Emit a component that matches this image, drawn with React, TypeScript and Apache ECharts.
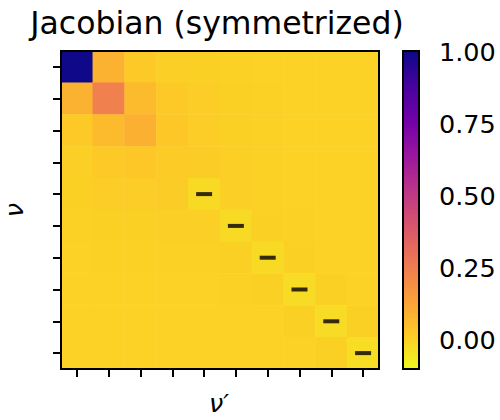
import React, { useEffect, useRef } from "react";
import * as echarts from "echarts";

// ---- data ----
const colLabels = ["0", "1", "2", "3", "4", "5", "6", "7", "8", "9"];
const rowLabels = ["0", "1", "2", "3", "4", "5", "6", "7", "8", "9"];
const jacobian: number[][] = [
  [1.0, 0.088, 0.022, 0.008, 0.004, 0.002, 0.0, 0.0, 0.0, 0.0],
  [0.088, 0.243, 0.065, 0.022, 0.012, 0.004, 0.002, 0.0, 0.0, 0.0],
  [0.022, 0.065, 0.095, 0.028, 0.012, 0.005, 0.002, 0.0, 0.0, 0.0],
  [0.008, 0.022, 0.028, 0.018, 0.014, 0.008, 0.003, 0.0, 0.0, 0.0],
  [0.004, 0.012, 0.012, 0.014, -0.02, 0.007, 0.003, 0.001, 0.0, 0.0],
  [0.002, 0.004, 0.005, 0.008, 0.007, -0.02, 0.006, 0.002, 0.0, 0.0],
  [0.0, 0.002, 0.002, 0.003, 0.003, 0.006, -0.02, 0.005, 0.001, 0.0],
  [0.0, 0.0, 0.0, 0.001, 0.001, 0.002, 0.005, -0.022, 0.004, 0.001],
  [0.0, 0.0, 0.0, 0.0, 0.0, 0.0, 0.001, 0.004, -0.024, 0.004],
  [0.0, 0.0, 0.0, 0.0, 0.0, 0.0, 0.0, 0.001, 0.004, -0.032],
];
const markerCells = [4, 5, 6, 7, 8, 9];
const colorbarTicks = [0, 0.25, 0.5, 0.75, 1.0];
const colorMin = -0.1;
const colorMax = 1.005;
// plasma colormap (low -> high), used reversed (plasma_r)
const plasma = [
  "#0d0887", "#47039f", "#7301a8", "#9c179e", "#bd3786",
  "#d8576b", "#ed7953", "#fa9e3b", "#fdc926", "#f0f921",
];

const FONT = "DejaVu Sans";

export default function App() {
  const ref = useRef<HTMLDivElement>(null);
  useEffect(() => {
    document.body.style.margin = "0";
    if (!ref.current) return;
    const chart = echarts.init(ref.current, undefined, { renderer: "svg" });

    const plasmaR = plasma.slice().reverse(); // low value -> yellow
    const heatData: [number, number, number][] = [];
    jacobian.forEach((row, r) =>
      row.forEach((v, c) => heatData.push([c, r, v]))
    );
    const markerData = markerCells.map((i) => [i, i]);

    const gL = 61, gT = 51, gW = 318, gH = 318;
    const cbL = 403, cbW = 16;

    const gradStops = plasma.map((c, i) => ({
      offset: i / (plasma.length - 1),
      color: c,
    }));

    const tickStyle = { color: "#000", width: 2 };

    chart.setOption({
      animation: false,
      backgroundColor: "#fff",
      textStyle: { fontFamily: FONT },
      grid: [
        { left: gL, top: gT, width: gW, height: gH, containLabel: false },
        { left: cbL, top: gT, width: cbW, height: gH, containLabel: false },
      ],
      xAxis: [
        {
          type: "category",
          gridIndex: 0,
          data: colLabels,
          axisLine: { show: false },
          axisTick: { show: true, alignWithLabel: true, interval: 0, length: 8, lineStyle: tickStyle },
          axisLabel: { show: false },
          splitLine: { show: false },
        },
        { type: "value", gridIndex: 1, show: false },
      ],
      yAxis: [
        {
          type: "category",
          gridIndex: 0,
          data: rowLabels,
          inverse: true,
          axisLine: { show: false },
          axisTick: { show: true, alignWithLabel: true, interval: 0, length: 8, lineStyle: tickStyle },
          axisLabel: { show: false },
          splitLine: { show: false },
        },
        {
          type: "value",
          gridIndex: 1,
          position: "right",
          min: colorMin,
          max: colorMax,
          axisLine: { show: false },
          axisTick: { show: true, length: 8, lineStyle: tickStyle, customValues: colorbarTicks },
          axisLabel: {
            show: true,
            customValues: colorbarTicks,
            formatter: (v: number) => v.toFixed(2),
            fontSize: 25.5,
            fontFamily: FONT,
            color: "#000",
            margin: 20,
          },
          splitLine: { show: false },
        },
      ],
      visualMap: {
        type: "continuous",
        show: false,
        min: colorMin,
        max: colorMax,
        dimension: 2,
        seriesIndex: 0,
        inRange: { color: plasmaR },
      },
      series: [
        {
          type: "heatmap",
          xAxisIndex: 0,
          yAxisIndex: 0,
          data: heatData,
          itemStyle: { borderWidth: 0 },
          emphasis: { disabled: true },
        },
        {
          type: "scatter",
          xAxisIndex: 0,
          yAxisIndex: 0,
          data: markerData,
          symbol: "rect",
          symbolSize: [16, 4],
          itemStyle: { color: "#000" },
          z: 5,
        },
      ],
      graphic: [
        {
          type: "rect",
          z: 100,
          shape: { x: gL, y: gT, width: gW, height: gH },
          style: { fill: "none", stroke: "#000", lineWidth: 2 },
          silent: true,
        },
        {
          type: "rect",
          z: 100,
          shape: { x: cbL, y: gT, width: cbW, height: gH },
          style: {
            fill: new echarts.graphic.LinearGradient(0, 0, 0, 1, gradStops),
            stroke: "#000",
            lineWidth: 2,
          },
          silent: true,
        },
        {
          type: "text",
          x: 217,
          y: 23,
          style: {
            text: "Jacobian (symmetrized)",
            fontSize: 31.5,
            fontFamily: FONT,
            fill: "#000",
            align: "center",
            verticalAlign: "middle",
          },
        },
        {
          type: "text",
          x: 219,
          y: 403,
          style: {
            text: "ν′",
            fontSize: 25.5,
            fontFamily: FONT,
            fontStyle: "italic",
            fill: "#000",
            align: "center",
            verticalAlign: "middle",
          },
        },
        {
          type: "text",
          x: 14,
          y: 210,
          rotation: Math.PI / 2,
          style: {
            text: "ν",
            fontSize: 25.5,
            fontFamily: FONT,
            fontStyle: "italic",
            fill: "#000",
            align: "center",
            verticalAlign: "middle",
          },
        },
      ],
    });
    return () => chart.dispose();
  }, []);
  return <div ref={ref} style={{ width: 500, height: 420 }} />;
}
